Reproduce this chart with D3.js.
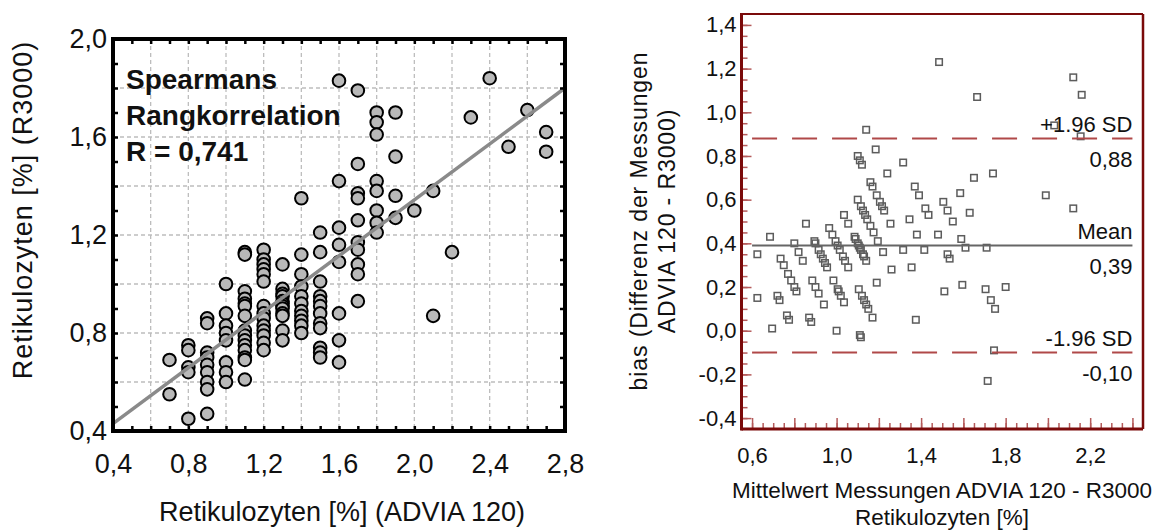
<!DOCTYPE html>
<html>
<head>
<meta charset="utf-8">
<script src="https://cdn.jsdelivr.net/npm/d3@7"></script>
<style>
  html, body { margin: 0; padding: 0; background: #fff; }
  svg { display: block; font-family: "Liberation Sans", Arial, sans-serif; }
</style>
</head>
<body>
<svg id="chart" width="1160" height="531"></svg>
<script>
// ADVIA 120 reticulocyte levels (x) and the R3000 readings measured at each level (y)
const adviaLevels = [0.7, 0.8, 0.9, 1.0, 1.1, 1.2, 1.3, 1.4, 1.5, 1.6, 1.7, 1.8, 1.9, 2.0, 2.1, 2.2, 2.3, 2.4, 2.5, 2.6, 2.7];
const r3000ByLevel = [
  [0.69, 0.55],
  [0.75, 0.73, 0.66, 0.64, 0.45],
  [0.86, 0.84, 0.72, 0.70, 0.67, 0.64, 0.60, 0.57, 0.47],
  [1.00, 0.88, 0.83, 0.80, 0.77, 0.68, 0.64, 0.60],
  [1.13, 1.12, 0.97, 0.94, 0.92, 0.91, 0.87, 0.81, 0.79, 0.77, 0.75, 0.73, 0.70, 0.69, 0.61],
  [1.14, 1.10, 1.08, 1.06, 1.04, 1.01, 0.91, 0.88, 0.86, 0.83, 0.81, 0.79, 0.76, 0.73],
  [1.08, 0.98, 0.96, 0.95, 0.93, 0.92, 0.91, 0.90, 0.88, 0.87, 0.81, 0.77],
  [1.35, 1.12, 1.04, 0.99, 0.95, 0.92, 0.89, 0.87, 0.85, 0.83, 0.80],
  [1.21, 1.13, 1.01, 0.95, 0.93, 0.91, 0.88, 0.84, 0.82, 0.74, 0.72, 0.70],
  [1.83, 1.42, 1.23, 1.16, 1.09, 0.88, 0.77, 0.68],
  [1.79, 1.49, 1.37, 1.35, 1.26, 1.17, 1.14, 1.08, 1.04, 0.93],
  [1.70, 1.66, 1.61, 1.42, 1.38, 1.30, 1.25, 1.21],
  [1.70, 1.52, 1.36, 1.27],
  [1.30],
  [1.38, 0.87],
  [1.13],
  [1.68],
  [1.84],
  [1.56],
  [1.71],
  [1.62, 1.54]
];

// Fitted line through the scatter (end points)
const regressionX = [0.4, 2.8];
const regressionY = [0.43, 1.80];

const spearmanLines = ["Spearmans", "Rangkorrelation", "R = 0,741"];

// Correlation panel axes
const corrTicksX = [0.4, 0.8, 1.2, 1.6, 2.0, 2.4, 2.8];
const corrTicksY = [0.4, 0.8, 1.2, 1.6, 2.0];

// Bland-Altman panel axes and limits of agreement
const baTicksX = [0.6, 1.0, 1.4, 1.8, 2.2];
const baTicksY = [-0.4, -0.2, 0.0, 0.2, 0.4, 0.6, 0.8, 1.0, 1.2, 1.4];
const limitNames = ["+1.96 SD", "Mean", "-1.96 SD"];
const limitValues = [0.88, 0.39, -0.10];
const limitSpan = [0.6, 2.4];

// ---------------------------------------------------------------------------
const loc = d3.formatLocale({ decimal: ",", thousands: ".", grouping: [3], currency: ["", ""], minus: "-" });
const f1 = loc.format(".1f");
const f2 = loc.format(".2f");

const svg = d3.select("#chart");

// Paired measurements
const pairs = adviaLevels.flatMap((a, i) => r3000ByLevel[i].map(r => ({ a, r })));

// ===================== Correlation panel =====================
const cx = d3.scaleLinear().domain([0.4, 2.8]).range([113, 565]);
const cy = d3.scaleLinear().domain([0.4, 2.0]).range([431, 39]);
const L = svg.append("g");

const gridX = d3.range(3, 14).map(i => i * 0.2);
const gridY = d3.range(3, 10).map(i => i * 0.2);
const gridStyle = sel => sel.attr("stroke", "#bdbdbd").attr("stroke-width", 1.3).attr("stroke-dasharray", "4,3");
L.append("g").selectAll("line").data(gridX).join("line")
  .attr("x1", d => cx(d)).attr("x2", d => cx(d)).attr("y1", cy(2.0)).attr("y2", cy(0.4)).call(gridStyle);
L.append("g").selectAll("line").data(gridY).join("line")
  .attr("y1", d => cy(d)).attr("y2", d => cy(d)).attr("x1", cx(0.4)).attr("x2", cx(2.8)).call(gridStyle);

// Spearman annotation
L.append("g").selectAll("text").data(spearmanLines).join("text")
  .attr("x", 126).attr("y", (d, i) => 89 + i * 36)
  .attr("font-size", 28).attr("font-weight", "bold").attr("fill", "#111")
  .text(d => d);

// Points
L.append("g").selectAll("circle").data(pairs).join("circle")
  .attr("cx", d => cx(d.a)).attr("cy", d => cy(d.r)).attr("r", 6.3)
  .attr("fill", "#b9b9b9").attr("stroke", "#000").attr("stroke-width", 2);

// Regression line
L.append("path")
  .datum(regressionX.map((x, i) => [x, regressionY[i]]))
  .attr("d", d3.line().x(d => cx(d[0])).y(d => cy(d[1])))
  .attr("stroke", "#8a8a8a").attr("stroke-width", 3.5).attr("fill", "none");

// Inward ticks on all four sides
const tX = d3.range(4, 29).map(i => i / 10);
const tY = d3.range(4, 21).map(i => i / 10);
const tickStyle = (g, color, w) => {
  g.select(".domain").remove();
  g.selectAll(".tick line").attr("stroke", color).attr("stroke-width", w);
};
L.append("g").attr("transform", `translate(0,${cy(0.4)})`)
  .call(d3.axisBottom(cx).tickValues(tX).tickSize(-5).tickFormat(""))
  .call(tickStyle, "#000", 2.5);
L.append("g").attr("transform", `translate(0,${cy(2.0)})`)
  .call(d3.axisTop(cx).tickValues(tX).tickSize(-5).tickFormat(""))
  .call(tickStyle, "#000", 2.5);
L.append("g").attr("transform", `translate(${cx(0.4)},0)`)
  .call(d3.axisLeft(cy).tickValues(tY).tickSize(-5).tickFormat(""))
  .call(tickStyle, "#000", 2.5);
L.append("g").attr("transform", `translate(${cx(2.8)},0)`)
  .call(d3.axisRight(cy).tickValues(tY).tickSize(-5).tickFormat(""))
  .call(tickStyle, "#000", 2.5);

// Frame
L.append("rect")
  .attr("x", cx(0.4)).attr("y", cy(2.0))
  .attr("width", cx(2.8) - cx(0.4)).attr("height", cy(0.4) - cy(2.0))
  .attr("fill", "none").attr("stroke", "#000").attr("stroke-width", 4);

// Tick labels
const labelStyle = (g, size) => {
  g.select(".domain").remove();
  g.attr("font-family", null).attr("font-size", null);
  g.selectAll("text").attr("font-size", size).attr("fill", "#111");
};
L.append("g").attr("transform", `translate(0,${cy(0.4)})`)
  .call(d3.axisBottom(cx).tickValues(corrTicksX).tickSize(0).tickPadding(23).tickFormat(f1))
  .call(labelStyle, 27);
L.append("g").attr("transform", `translate(${cx(0.4)},0)`)
  .call(d3.axisLeft(cy).tickValues(corrTicksY).tickSize(0).tickPadding(6).tickFormat(f1))
  .call(labelStyle, 27);

// Axis titles
L.append("text").attr("x", 342).attr("y", 521).attr("text-anchor", "middle")
  .attr("font-size", 27).attr("fill", "#111").text("Retikulozyten [%] (ADVIA 120)");
L.append("text").attr("transform", "translate(32,210) rotate(-90)").attr("text-anchor", "middle")
  .attr("font-size", 27).attr("letter-spacing", 1).attr("fill", "#111").text("Retikulozyten [%] (R3000)");

// ===================== Bland-Altman panel =====================
const bx = d3.scaleLinear().domain([0.55, 2.45]).range([741.5, 1143]);
const by = d3.scaleLinear().domain([-0.45, 1.45]).range([429, 14]);
const R = svg.append("g");

// Mean of both methods vs. their difference, per sample
const baPoints = pairs.map(p => ({ m: (p.a + p.r) / 2, d: p.a - p.r }));

const tickRed = "#b45a5a";
const minorY = d3.range(-8, 29).map(i => i * 0.05);
const majorY = d3.range(-2, 8).map(i => i * 0.2);
const minorX = d3.range(12, 49).map(i => i * 0.05);
const majorX = d3.range(3, 13).map(i => i * 0.2);
R.append("g").attr("transform", `translate(${bx.range()[0]},0)`)
  .call(d3.axisLeft(by).tickValues(minorY).tickSize(-6).tickFormat(""))
  .call(tickStyle, tickRed, 1.5);
R.append("g").attr("transform", `translate(${bx.range()[0]},0)`)
  .call(d3.axisLeft(by).tickValues(majorY).tickSize(-10).tickFormat(""))
  .call(tickStyle, tickRed, 1.5);
R.append("g").attr("transform", `translate(0,${by.range()[0]})`)
  .call(d3.axisBottom(bx).tickValues(minorX).tickSize(-6).tickFormat(""))
  .call(tickStyle, tickRed, 1.5);
R.append("g").attr("transform", `translate(0,${by.range()[0]})`)
  .call(d3.axisBottom(bx).tickValues(majorX).tickSize(-11).tickFormat(""))
  .call(tickStyle, tickRed, 1.5);

// Squares
const sq = 6.5;
R.append("g").selectAll("rect").data(baPoints).join("rect")
  .attr("x", d => bx(d.m) - sq / 2).attr("y", d => by(d.d) - sq / 2)
  .attr("width", sq).attr("height", sq)
  .attr("fill", "none").attr("stroke", "#5c5c5c").attr("stroke-width", 1.5);

// Limits of agreement and mean difference
const limits = limitNames.map((name, i) => ({ name, v: limitValues[i] }));
R.append("g").selectAll("line").data(limits).join("line")
  .attr("x1", bx(limitSpan[0])).attr("x2", bx(limitSpan[1]))
  .attr("y1", d => by(d.v)).attr("y2", d => by(d.v))
  .attr("stroke", d => d.name === "Mean" ? "#666" : "#b04848")
  .attr("stroke-width", 2)
  .attr("stroke-dasharray", d => d.name === "Mean" ? null : "25,15");
R.append("g").selectAll("text").data(limits).join("text")
  .attr("x", bx(limitSpan[1])).attr("y", d => by(d.v) - 7)
  .attr("text-anchor", "end").attr("font-size", 22).attr("fill", "#111")
  .text(d => d.name);
R.append("g").selectAll("text").data(limits).join("text")
  .attr("x", bx(limitSpan[1])).attr("y", d => by(d.v) + 28)
  .attr("text-anchor", "end").attr("font-size", 22).attr("fill", "#111")
  .text(d => f2(d.v));

// Frame
const frameRed = "#7a0a0a";
const [fx0, fx1] = bx.range(), [fy0, fy1] = by.range();
R.append("line").attr("x1", fx0).attr("x2", fx1).attr("y1", fy1).attr("y2", fy1).attr("stroke", frameRed).attr("stroke-width", 2.2);
R.append("line").attr("x1", fx1).attr("x2", fx1).attr("y1", fy1).attr("y2", fy0).attr("stroke", frameRed).attr("stroke-width", 2.5);
R.append("line").attr("x1", fx0).attr("x2", fx1).attr("y1", fy0).attr("y2", fy0).attr("stroke", frameRed).attr("stroke-width", 3);
R.append("line").attr("x1", fx0).attr("x2", fx0).attr("y1", fy1 - 1).attr("y2", fy0 + 1.5).attr("stroke", frameRed).attr("stroke-width", 3);

// Tick labels
R.append("g").attr("transform", `translate(0,${fy0})`)
  .call(d3.axisBottom(bx).tickValues(baTicksX).tickSize(0).tickPadding(18).tickFormat(f1))
  .call(labelStyle, 22);
R.append("g").attr("transform", `translate(${fx0},0)`)
  .call(d3.axisLeft(by).tickValues(baTicksY).tickSize(0).tickPadding(5).tickFormat(f1))
  .call(labelStyle, 22);

// Axis titles
R.append("text").attr("x", 942).attr("y", 498).attr("text-anchor", "middle")
  .attr("font-size", 22.5).attr("fill", "#111").text("Mittelwert Messungen ADVIA 120 - R3000");
R.append("text").attr("x", 942).attr("y", 525).attr("text-anchor", "middle")
  .attr("font-size", 22.5).attr("fill", "#111").text("Retikulozyten [%]");
R.append("text").attr("transform", "translate(647,221) rotate(-90)").attr("text-anchor", "middle")
  .attr("font-size", 23).attr("letter-spacing", 0.9).attr("fill", "#111").text("bias (Differenz der Messungen");
R.append("text").attr("transform", "translate(675,221) rotate(-90)").attr("text-anchor", "middle")
  .attr("font-size", 23).attr("letter-spacing", 0.9).attr("fill", "#111").text("ADVIA 120 - R3000)");
</script>
</body>
</html>
